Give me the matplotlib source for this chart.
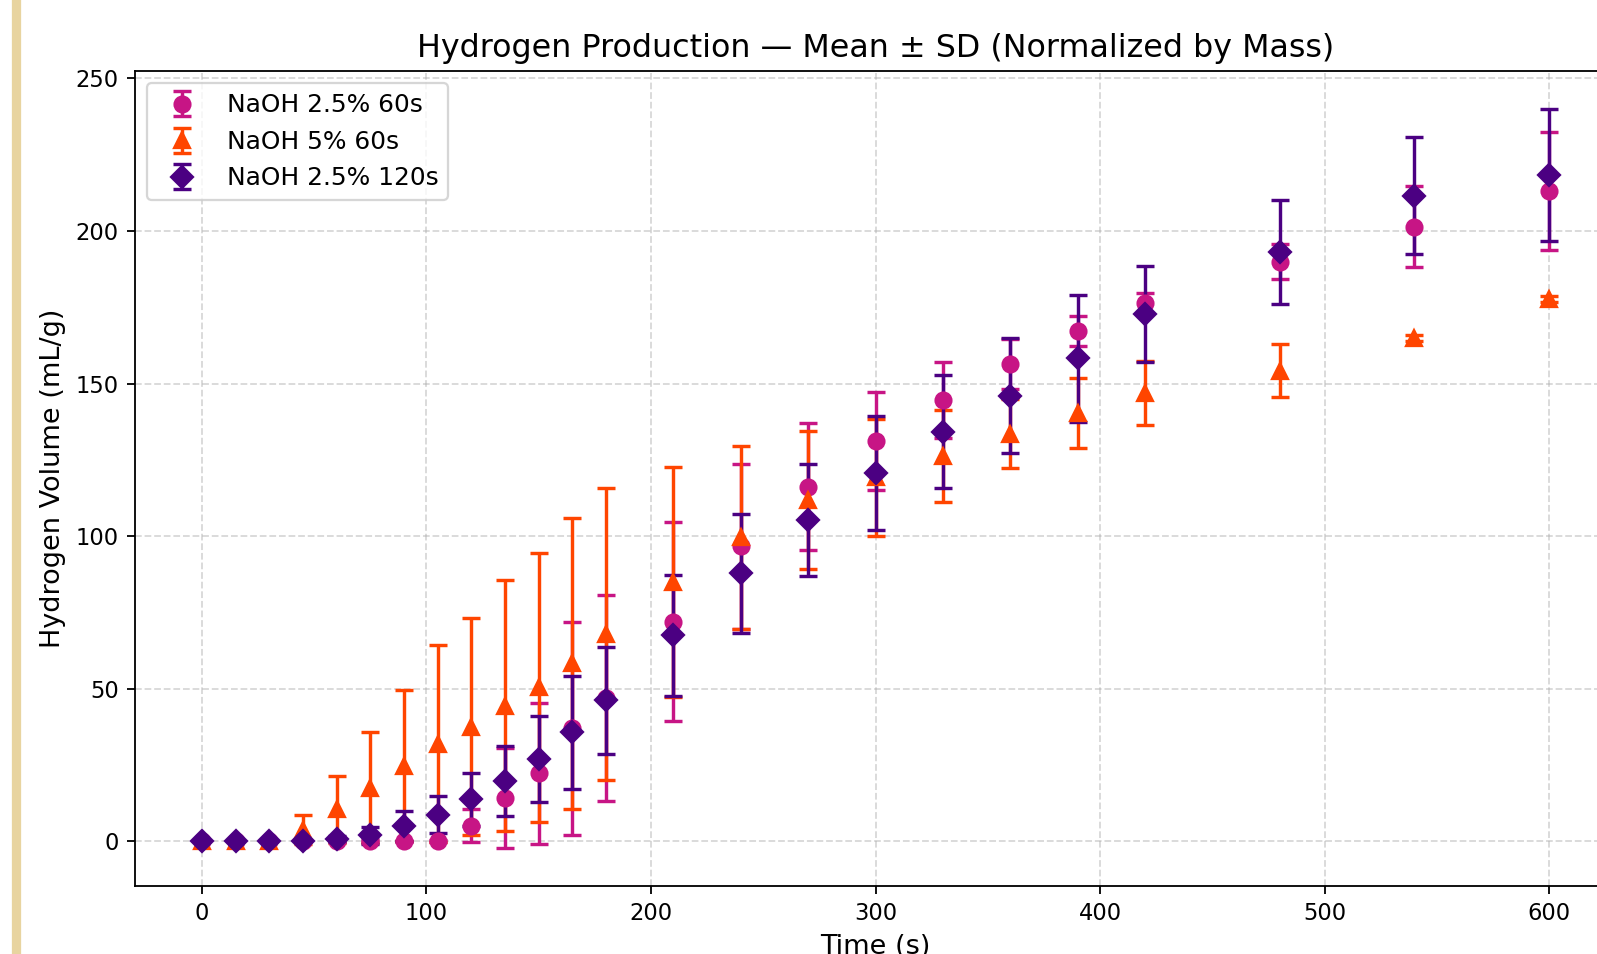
import matplotlib
matplotlib.use("Agg")
import matplotlib.pyplot as plt
from matplotlib.patches import Rectangle

# time points (s)
time = [0, 15, 30, 45, 60, 75, 90, 105, 120, 135, 150, 165, 180,
        210, 240, 270, 300, 330, 360, 390, 420, 480, 540, 600]

# NaOH 2.5% 60s
mean_a = [0, 0, 0, 0, 0, 0.3, 0, 0.2, 5.2, 14.3, 22.3, 37.0, 47.0,
          72.0, 96.7, 116.2, 131.2, 144.6, 156.3, 167.2, 176.3, 189.9, 201.4, 213.2]
sd_a = [0, 0, 0, 0, 0, 0.5, 0.3, 0.3, 5.5, 16.4, 23.0, 35.0, 33.6,
        32.7, 27.0, 20.8, 16.1, 12.4, 8.2, 5.0, 3.3, 5.7, 13.2, 19.3]

# NaOH 5% 60s
mean_b = [0, 0, 0, 3.8, 10.5, 17.6, 24.8, 32.0, 37.6, 44.5, 50.5, 58.3, 68.0,
          85.0, 99.6, 111.8, 119.3, 126.3, 133.5, 140.3, 146.8, 154.2, 165.0, 177.7]
sd_b = [0, 0, 0, 4.8, 11.0, 18.1, 24.8, 32.2, 35.5, 41.0, 44.0, 47.8, 47.8,
        37.7, 30.0, 22.6, 19.1, 15.1, 11.3, 11.5, 10.5, 8.6, 1.0, 1.0]

# NaOH 2.5% 120s
mean_c = [0, 0, 0, 0, 0.9, 2.0, 5.0, 8.8, 13.8, 19.8, 27.0, 35.7, 46.3,
          67.6, 87.8, 105.2, 120.8, 134.2, 146.0, 158.3, 172.8, 193.0, 211.5, 218.3]
sd_c = [0, 0, 0, 0, 1.0, 2.8, 5.0, 6.1, 8.7, 11.4, 14.2, 18.4, 17.5,
        19.8, 19.5, 18.4, 18.7, 18.5, 18.8, 20.8, 15.6, 17.0, 19.2, 21.6]

labels = ["NaOH 2.5% 60s", "NaOH 5% 60s", "NaOH 2.5% 120s"]
colors = ["#C71585", "#FF4500", "#4B0082"]
markers = ["o", "^", "D"]

W, H = 1597, 954
dpi = 163
fig = plt.figure(figsize=(W / dpi, H / dpi), dpi=dpi)

# tan strip at the left edge of the screenshot
fig.patches.append(Rectangle((12.7 / W, 0), 7.3 / W, 1, transform=fig.transFigure,
                             color="#E8D4A0", zorder=0))

ax = fig.add_axes([134.5 / W, 68.3 / H, 1482.1 / W, 814.7 / H])

series = [(mean_a, sd_a), (mean_b, sd_b), (mean_c, sd_c)]
for (m, s), lab, c, mk in zip(series, labels, colors, markers):
    ax.errorbar(time, m, yerr=s, fmt=mk, color=c, ecolor=c, ms=7,
                elinewidth=1.5, capsize=4, capthick=1.5, label=lab)

ax.set_xlim(-30, 630)
ax.set_ylim(-14.5, 252.4)
ax.set_xticks([0, 100, 200, 300, 400, 500, 600])
ax.set_yticks([0, 50, 100, 150, 200, 250])
ax.grid(True, linestyle="--", alpha=0.5)
ax.set_title("Hydrogen Production — Mean ± SD (Normalized by Mass)", fontsize=14)
ax.set_xlabel("Time (s)", fontsize=12)
ax.set_ylabel("Hydrogen Volume (mL/g)", fontsize=12)
ax.legend(loc="upper left", fontsize=11)

fig.savefig("out.png", dpi=dpi)
